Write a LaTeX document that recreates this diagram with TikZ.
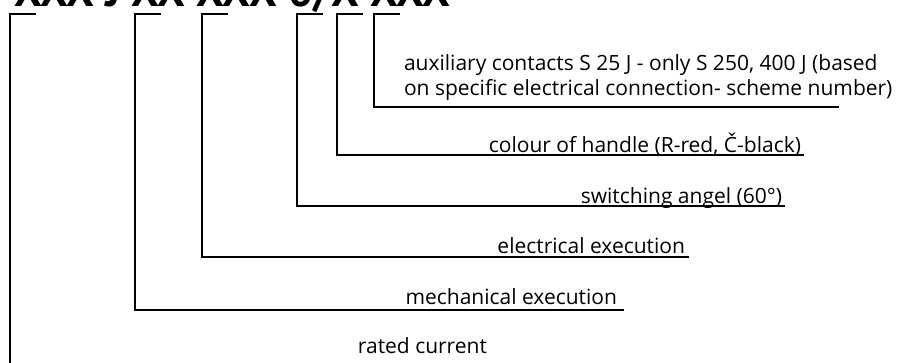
\documentclass[tikz,border=0pt]{standalone}
\usepackage{fontspec}
\setmainfont{Open Sans}
\newfontfamily\codefont{PT Sans}
\usetikzlibrary{positioning, calc}
\begin{document}
\begin{tikzpicture}[x=1pt, y=-1pt, line width=2pt, font=\fontsize{21}{24.5}\selectfont]
\tikzset{code/.style={anchor=base west, inner sep=0, font=\codefont\fontsize{44}{44}\selectfont\bfseries}, lbl/.style={anchor=base east, inner sep=0}, brk/.style={line width=2pt, line cap=rect}}
\useasboundingbox (0,0) rectangle (908,362);
\node[code] (T) at (13,6) {XXX J XX XXX 0/X XXX};
\coordinate (B1) at (10,14); \coordinate (B2) at (135,14); \coordinate (B3) at (202,14);
\coordinate (B4) at (297,14); \coordinate (B5) at (337,14); \coordinate (B6) at (374,14);
\coordinate (E1) at (490,366); \coordinate (E2) at (623,310); \coordinate (E3) at (688,257);
\coordinate (E4) at (784,206); \coordinate (E5) at (803,155); \coordinate (E6) at (838,107);
\node[anchor=base west, inner sep=0, align=left] (L6) at (403,95) {auxiliary contacts S 25 J - only S 250, 400 J (based\\on specific electrical connection- scheme number)};
\node[lbl] (L5) at (802,152) {colour of handle (R-red, Č-black)};
\node[lbl] (L4) at (783,203) {switching angel (60°)};
\node[lbl] (L3) at (686,253) {electrical execution};
\node[lbl] (L2) at (618,304) {mechanical execution};
\node[lbl] (L1) at (488,353) {rated current};
\foreach \i in {1,...,6} \draw[brk] ($(B\i)+(25,0)$) -- (B\i) |- (E\i);
\end{tikzpicture}
\end{document}
